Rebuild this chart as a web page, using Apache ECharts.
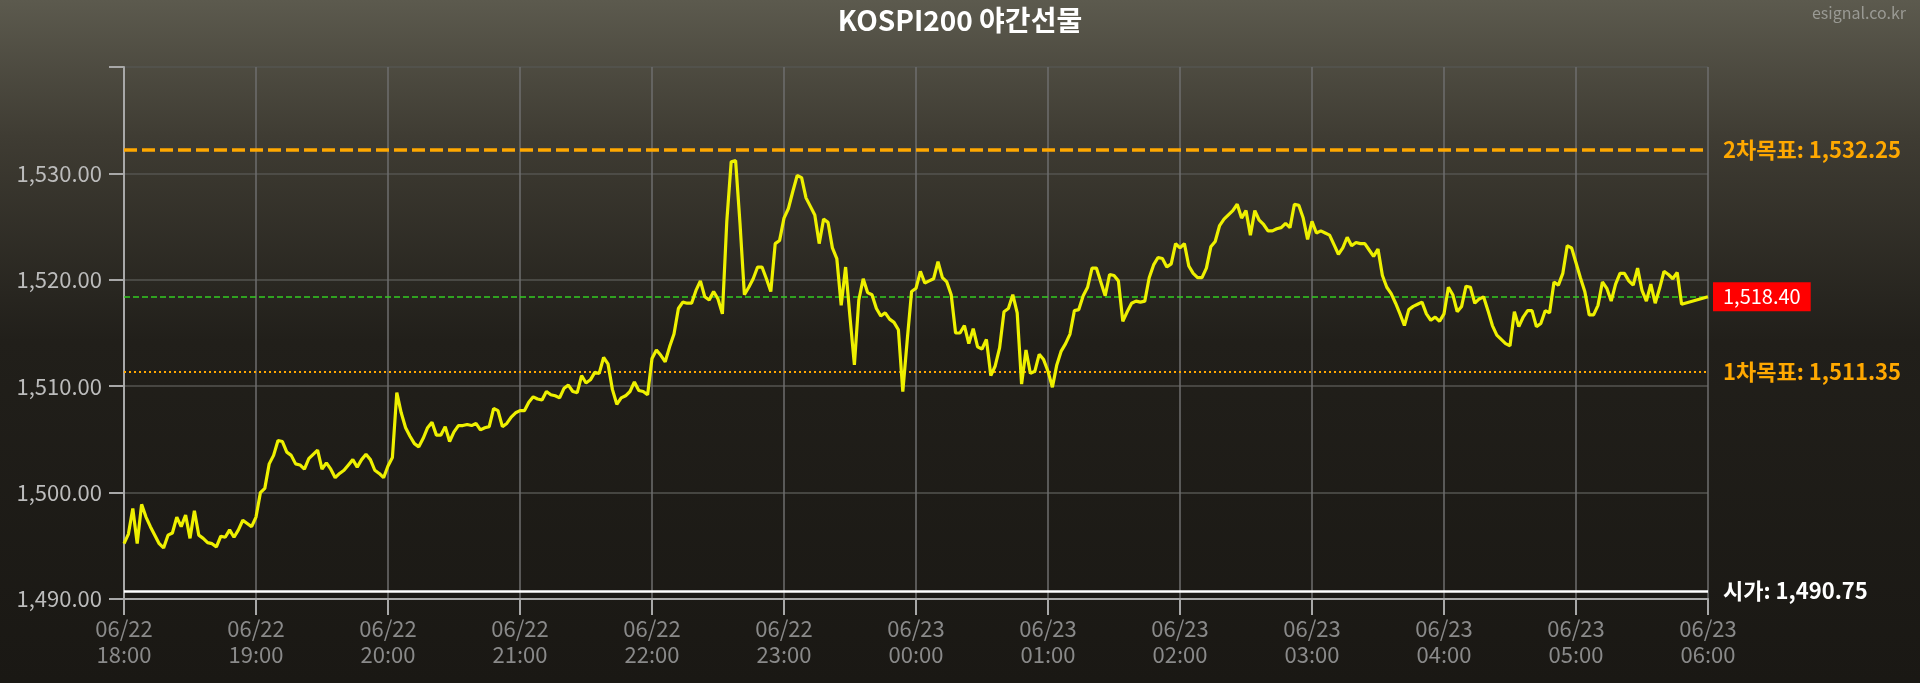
<!DOCTYPE html>
<html>
<head>
<meta charset="utf-8">
<title>KOSPI200 야간선물</title>
<script src="https://cdn.jsdelivr.net/npm/echarts@6/dist/echarts.min.js"></script>
<style>
  html, body { margin: 0; padding: 0; width: 100%; height: 100%; background: #1a1814; }
  #chart { width: 1920px; height: 683px; }
</style>
</head>
<body>
<div id="chart"></div>
<script>
// x축 라벨 (1시간 간격)
const tickLabels = [
  '06/22\n18:00', '06/22\n19:00', '06/22\n20:00', '06/22\n21:00', '06/22\n22:00',
  '06/22\n23:00', '06/23\n00:00', '06/23\n01:00', '06/23\n02:00', '06/23\n03:00',
  '06/23\n04:00', '06/23\n05:00', '06/23\n06:00'
]

// 2분 간격 시세 (18:00 ~ 05:48)
const prices = [
  1495.2, 1496.1, 1498.5, 1495.2, 1498.9, 1497.7, 1496.8, 1496.0, 1495.2, 1494.8,
  1496.0, 1496.2, 1497.7, 1496.8, 1497.9, 1495.7, 1498.3, 1496.0, 1495.7, 1495.3,
  1495.2, 1494.9, 1495.9, 1495.8, 1496.5, 1495.8, 1496.5, 1497.4, 1497.1, 1496.8,
  1497.7, 1500.0, 1500.4, 1502.7, 1503.5, 1504.9, 1504.8, 1503.8, 1503.5, 1502.7,
  1502.6, 1502.2, 1503.2, 1503.6, 1504.0, 1502.2, 1502.8, 1502.2, 1501.4, 1501.8,
  1502.1, 1502.6, 1503.1, 1502.4, 1503.1, 1503.6, 1503.1, 1502.1, 1501.8, 1501.4,
  1502.5, 1503.3, 1509.4, 1507.5, 1506.1, 1505.3, 1504.6, 1504.3, 1505.1, 1506.1,
  1506.6, 1505.4, 1505.4, 1506.2, 1504.8, 1505.7, 1506.3, 1506.3, 1506.4, 1506.3,
  1506.5, 1505.9, 1506.1, 1506.2, 1507.9, 1507.7, 1506.2, 1506.5, 1507.1, 1507.5,
  1507.7, 1507.7, 1508.5, 1509.0, 1508.8, 1508.7, 1509.5, 1509.2, 1509.1, 1508.9,
  1509.8, 1510.1, 1509.5, 1509.4, 1511.0, 1510.3, 1510.6, 1511.3, 1511.2, 1512.7,
  1512.1, 1509.7, 1508.3, 1508.9, 1509.1, 1509.5, 1510.4, 1509.6, 1509.5, 1509.2,
  1512.6, 1513.4, 1512.9, 1512.3, 1513.7, 1514.9, 1517.3, 1517.9, 1517.8, 1517.8,
  1519.0, 1519.9, 1518.4, 1518.1, 1518.9, 1518.2, 1516.8, 1525.5, 1531.1, 1531.2,
  1525.3, 1518.6, 1519.3, 1520.1, 1521.2, 1521.2, 1520.1, 1518.9, 1523.4, 1523.7,
  1525.8, 1526.7, 1528.3, 1529.8, 1529.6, 1527.7, 1526.9, 1526.1, 1523.4, 1525.7,
  1525.4, 1523.0, 1522.0, 1517.6, 1521.2, 1516.5, 1512.0, 1518.1, 1520.1, 1518.8,
  1518.6, 1517.3, 1516.6, 1516.9, 1516.3, 1516.0, 1515.3, 1509.5, 1514.3, 1518.9,
  1519.2, 1520.8, 1519.7, 1519.9, 1520.1, 1521.7, 1520.2, 1519.8, 1518.6, 1515.0,
  1515.0, 1515.7, 1514.0, 1515.4, 1513.7, 1513.5, 1514.4, 1511.0, 1511.9, 1513.6,
  1517.0, 1517.3, 1518.6, 1516.9, 1510.2, 1513.4, 1511.2, 1511.4, 1513.0, 1512.5,
  1511.4, 1509.9, 1512.0, 1513.3, 1514.0, 1514.9, 1517.1, 1517.2, 1518.5, 1519.3,
  1521.1, 1521.1, 1519.8, 1518.5, 1520.5, 1520.4, 1519.9, 1516.1, 1517.0, 1517.8,
  1518.0, 1517.9, 1518.0, 1520.2, 1521.4, 1522.1, 1522.0, 1521.2, 1521.5, 1523.4,
  1523.0, 1523.4, 1521.3, 1520.6, 1520.2, 1520.2, 1521.1, 1523.1, 1523.6, 1525.1,
  1525.7, 1526.1, 1526.5, 1527.1, 1525.8, 1526.5, 1524.2, 1526.5, 1525.6, 1525.2,
  1524.6, 1524.6, 1524.8, 1524.9, 1525.3, 1524.9, 1527.1, 1527.0, 1525.8, 1523.8,
  1525.5, 1524.4, 1524.6, 1524.4, 1524.2, 1523.3, 1522.4, 1523.0, 1524.0, 1523.2,
  1523.5, 1523.4, 1523.4, 1522.8, 1522.2, 1522.9, 1520.4, 1519.3, 1518.7, 1517.8,
  1516.8, 1515.7, 1517.2, 1517.5, 1517.7, 1517.9, 1516.8, 1516.2, 1516.5, 1516.1,
  1516.8, 1519.3, 1518.6, 1517.0, 1517.5, 1519.4, 1519.3, 1517.8, 1518.2, 1518.4,
  1517.1, 1515.7, 1514.8, 1514.4, 1514.0, 1513.8, 1517.0, 1515.6, 1516.5, 1517.1,
  1517.1, 1515.6, 1515.9, 1517.1, 1516.9, 1519.8, 1519.5, 1520.6, 1523.2, 1523.0,
  1521.6, 1520.2, 1518.9, 1516.7, 1516.7, 1517.6, 1519.8, 1519.2, 1518.0, 1519.6,
  1520.6, 1520.6, 1519.9, 1519.5, 1521.1, 1519.0, 1518.0, 1519.6, 1517.8, 1519.2,
  1520.8, 1520.5, 1520.1, 1520.7, 1517.7
]
const stepMinutes = 2
const lastPoint = [720, 1518.40]   // 06:00 현재가

// 기준선
const target2 = 1532.25
const currentPrice = 1518.40
const target1 = 1511.35
const openPrice = 1490.75

const fmt = function (v) {
  return Number(v).toLocaleString('en-US', { minimumFractionDigits: 2, maximumFractionDigits: 2 })
}

const lineData = prices.map(function (v, i) { return [i * stepMinutes, v] })
lineData.push(lastPoint)

const chart = echarts.init(document.getElementById('chart'))
const font = '"Noto Sans CJK KR", "Noto Sans", sans-serif'

const option = {
  animation: false,
  backgroundColor: {
    type: 'linear', x: 0, y: 0, x2: 0, y2: 1,
    colorStops: [
      { offset: 0, color: '#5c5a4e' },
      { offset: 0.2, color: '#3f3c33' },
      { offset: 0.5, color: '#211f1a' },
      { offset: 1, color: '#1a1814' }
    ]
  },
  title: [
    {
      text: 'KOSPI200 야간선물',
      left: 'center',
      top: 1,
      textStyle: { color: '#ffffff', fontSize: 28, fontWeight: 'bold', fontFamily: font }
    },
    {
      text: 'esignal.co.kr',
      right: 9,
      top: 0,
      textStyle: { color: '#9a9a94', fontSize: 16, fontWeight: 'normal', fontFamily: font }
    }
  ],
  grid: { left: 124, right: 212, top: 67, bottom: 84 },
  xAxis: {
    type: 'value',
    min: 0,
    max: 720,
    interval: 60,
    axisLine: { show: true, lineStyle: { color: '#a8a8a8', width: 2 } },
    axisTick: { show: true, length: 16, lineStyle: { color: '#a8a8a8', width: 2 } },
    axisLabel: {
      color: '#8a8a8a',
      fontSize: 22,
      lineHeight: 26,
      margin: 17,
      fontFamily: font,
      formatter: function (v) { return tickLabels[Math.round(v / 60)] }
    },
    splitLine: { show: true, lineStyle: { color: '#6e6e6e', width: 1.5 } }
  },
  yAxis: {
    type: 'value',
    min: 1490,
    max: 1540,
    interval: 10,
    axisLine: { show: true, lineStyle: { color: '#a8a8a8', width: 2 } },
    axisTick: { show: true, length: 15, lineStyle: { color: '#a8a8a8', width: 2 } },
    axisLabel: {
      color: '#bcbcbc',
      fontSize: 22,
      margin: 22,
      fontFamily: font,
      formatter: function (v) { return v === 1540 ? '' : fmt(v) }
    },
    splitLine: { show: true, lineStyle: { color: '#555450', width: 1.5 } }
  },
  series: [
    {
      type: 'line',
      data: lineData,
      showSymbol: false,
      lineStyle: { color: '#eef000', width: 3.2 },
      z: 5,
      markLine: {
        silent: true,
        symbol: 'none',
        data: [
          {
            yAxis: target2,
            lineStyle: { color: '#ffa800', width: 3.5, type: [13, 5] },
            label: {
              position: 'end', distance: 15, color: '#ffa800', fontSize: 22, fontWeight: 'bold', fontFamily: font,
              formatter: '2차목표: ' + fmt(target2)
            }
          },
          {
            yAxis: currentPrice,
            lineStyle: { color: '#33cc22', width: 1.5, type: [6, 3] },
            label: {
              position: 'end', distance: 5, color: '#ffffff', fontSize: 20, fontFamily: font,
              backgroundColor: '#ff0000', padding: [5, 10, 4, 10],
              formatter: fmt(currentPrice)
            }
          },
          {
            yAxis: target1,
            lineStyle: { color: '#ffa800', width: 2, type: [2, 3] },
            label: {
              position: 'end', distance: 15, color: '#ffa800', fontSize: 22, fontWeight: 'bold', fontFamily: font,
              formatter: '1차목표: ' + fmt(target1)
            }
          },
          {
            yAxis: openPrice,
            lineStyle: { color: '#ffffff', width: 2.5, type: 'solid' },
            label: {
              position: 'end', distance: 15, color: '#ffffff', fontSize: 22, fontWeight: 'bold', fontFamily: font,
              formatter: '시가: ' + fmt(openPrice)
            }
          }
        ]
      }
    }
  ]
}

chart.setOption(option)
</script>
</body>
</html>
